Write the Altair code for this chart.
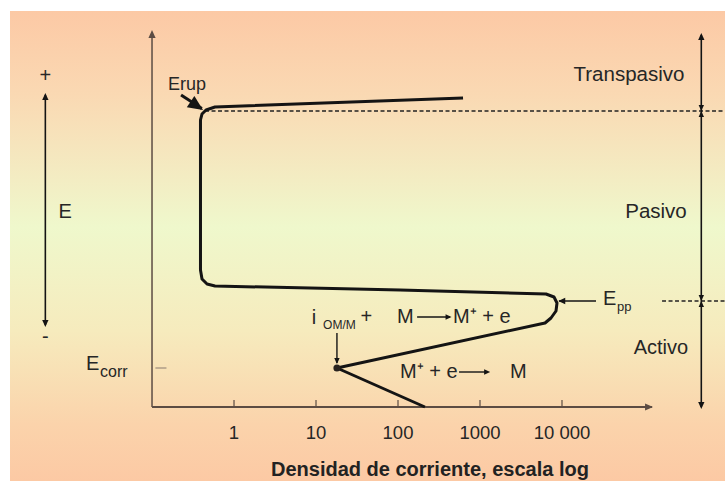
import altair as alt
import pandas as pd

# Anodic polarization curve: current density (log) vs potential, in drawing order
current = [213, 18, 6210, 7340, 8450, 8690, 7990, 6380, 106, 0.586, 0.469,
           0.407, 0.390, 0.390, 0.407, 0.456, 0.586, 621]
potential = [0, 39, 84, 89, 96, 104, 110, 113, 117, 121, 123,
             128, 137, 287, 293, 297, 300, 309]

# Characteristic points
i_corr, E_corr = 18, 39
E_pp = 106
E_rup = 296

# Horizontal axis ticks
tick_values = [1, 10, 100, 1000, 10000]
tick_labels = ["1", "10", "100", "1000", "10 000"]

FONT = "Liberation Sans"
INK = "#141414"
TEXT = "#262626"
AXIS = "#5c4c43"

W, H = 725, 481
X = alt.Scale(type="log", domain=[10 ** -2.854, 10 ** 5.988], nice=False)
Y = alt.Scale(domain=[-74, 407], nice=False, zero=False)
X_MAX = 10 ** 5.988

# Arrowhead with its tip at the anchor point, pointing up before rotation
HEAD = "M0,0 L-0.45,1 L0.45,1 Z"


def enc_xy(**extra):
    return dict(
        x=alt.X("x:Q", scale=X, axis=None),
        y=alt.Y("y:Q", scale=Y, axis=None),
        **extra,
    )


# Background frame with vertical colour gradient
bg = alt.Chart(pd.DataFrame({"k": [0]})).mark_rect(
    color=alt.Gradient(
        gradient="linear",
        x1=0, x2=0, y1=0, y2=1,
        stops=[
            alt.GradientStop(color="#fcc9a5", offset=0.0),
            alt.GradientStop(color="#fad9b3", offset=0.18),
            alt.GradientStop(color="#eff8cc", offset=0.46),
            alt.GradientStop(color="#f6ebbd", offset=0.68),
            alt.GradientStop(color="#fbd3ab", offset=0.88),
            alt.GradientStop(color="#fcc9a4", offset=1.0),
        ],
    )
).encode(x=alt.value(10), x2=alt.value(W), y=alt.value(11), y2=alt.value(H))

# Axes (drawn as lines with arrowheads) and decade ticks
axes_df = pd.DataFrame({
    "x": [0.1, 0.1], "x2": [1.25e5, 0.1],
    "y": [0, 0], "y2": [0, 373],
    "w": [2.0, 1.5],
})
axes = alt.Chart(axes_df).mark_rule(color=AXIS, strokeCap="butt").encode(
    x=alt.X("x:Q", scale=X, axis=None), x2="x2:Q",
    y=alt.Y("y:Q", scale=Y, axis=None), y2="y2:Q",
    strokeWidth=alt.StrokeWidth("w:Q", scale=None),
)
ticks = alt.Chart(pd.DataFrame({"x": tick_values, "y": [0] * 5, "y2": [7] * 5})).mark_rule(
    color=AXIS, strokeWidth=1.2
).encode(x=alt.X("x:Q", scale=X, axis=None), y=alt.Y("y:Q", scale=Y, axis=None), y2="y2:Q")

ecorr_tick = alt.Chart(pd.DataFrame({"x": [0.11], "x2": [0.15], "y": [E_corr]})).mark_rule(
    color="#8a7a70", strokeWidth=1
).encode(x=alt.X("x:Q", scale=X, axis=None), x2="x2:Q", y=alt.Y("y:Q", scale=Y, axis=None))

# Dashed limits of the passive region
dash_df = pd.DataFrame({"x": [0.443, 1.66e5], "x2": [X_MAX, X_MAX], "y": [E_rup, E_pp]})
dashes = alt.Chart(dash_df).mark_rule(color="#222222", strokeWidth=1.6, strokeDash=[4, 2.5]).encode(
    x=alt.X("x:Q", scale=X, axis=None), x2="x2:Q", y=alt.Y("y:Q", scale=Y, axis=None)
)

# The curve itself
curve_df = pd.DataFrame({"x": current, "y": potential, "step": range(len(current))})
curve = alt.Chart(curve_df).mark_line(color=INK, strokeWidth=3, strokeJoin="round").encode(
    **enc_xy(order="step:Q")
)

dot = alt.Chart(pd.DataFrame({"x": [i_corr], "y": [E_corr]})).mark_point(
    filled=True, shape="circle", size=50, color="#2a2420", opacity=1
).encode(**enc_xy())

# Arrow shafts
shaft_df = pd.DataFrame([
    # E range on the left
    dict(x=0.005, x2=0.005, y=82, y2=312, w=1.6),
    # region brackets on the right
    dict(x=5e5, x2=5e5, y=0, y2=372, w=1.6),
    # E_rup pointer
    dict(x=0.226, x2=0.405, y=312, y2=298.5, w=3.0),
    # E_pp pointer
    dict(x=26000, x2=9200, y=E_pp, y2=E_pp, w=1.6),
    # i_corr pointer
    dict(x=i_corr, x2=i_corr, y=74, y2=44, w=1.4),
    # reaction arrows
    dict(x=171, x2=430, y=90, y2=90, w=1.4),
    dict(x=555, x2=1250, y=35, y2=35, w=1.4),
])
shafts = alt.Chart(shaft_df).mark_rule(color=INK, strokeCap="butt").encode(
    x=alt.X("x:Q", scale=X, axis=None), x2="x2:Q",
    y=alt.Y("y:Q", scale=Y, axis=None), y2="y2:Q",
    strokeWidth=alt.StrokeWidth("w:Q", scale=None),
)

# Arrowheads: tip position, direction (degrees clockwise from up), size
head_df = pd.DataFrame([
    dict(x=0.1, y=377, a=0, s=256, c=AXIS),
    dict(x=1.29e5, y=0, a=90, s=256, c=AXIS),
    dict(x=0.005, y=314, a=0, s=196, c=INK),
    dict(x=0.005, y=80, a=180, s=196, c=INK),
    dict(x=5e5, y=374, a=0, s=196, c=INK),
    dict(x=5e5, y=E_rup, a=180, s=144, c=INK),
    dict(x=5e5, y=E_rup, a=0, s=144, c=INK),
    dict(x=5e5, y=E_pp, a=180, s=144, c=INK),
    dict(x=5e5, y=E_pp, a=0, s=144, c=INK),
    dict(x=5e5, y=-2, a=180, s=196, c=INK),
    dict(x=0.419, y=297, a=124, s=900, c=INK),
    dict(x=9000, y=E_pp, a=270, s=196, c=INK),
    dict(x=i_corr, y=43, a=180, s=144, c=INK),
    dict(x=450, y=90, a=90, s=144, c=INK),
    dict(x=1330, y=35, a=90, s=144, c=INK),
])
heads = alt.Chart(head_df).mark_point(shape=HEAD, filled=True, opacity=1, strokeWidth=0).encode(
    **enc_xy(
        angle=alt.Angle("a:Q", scale=None),
        size=alt.Size("s:Q", scale=None),
        color=alt.Color("c:N", scale=None),
    )
)

# Labels
center_df = pd.DataFrame(
    [
        dict(t="+", x=0.005, y=331, fs=20),
        dict(t="-", x=0.005, y=70, fs=20),
        dict(t="E", x=0.0087, y=195, fs=20),
        dict(t="Erup", x=0.267, y=322, fs=18),
        dict(t="Transpasivo", x=65600, y=332, fs=20.5),
        dict(t="Pasivo", x=140000, y=195, fs=20.5),
        dict(t="Activo", x=161000, y=59, fs=20),
    ]
    + [dict(t=lab, x=v, y=-26, fs=18.5) for v, lab in zip(tick_values, tick_labels)]
)
center_text = alt.Chart(center_df).mark_text(font=FONT, color=TEXT, align="center", baseline="middle").encode(
    **enc_xy(text="t:N", size=alt.Size("fs:Q", scale=None))
)

left_df = pd.DataFrame([
    dict(t="E", x=0.0157, y=43, fs=20),
    dict(t="corr", x=0.0232, y=35, fs=16),
    dict(t="E", x=31600, y=108, fs=20),
    dict(t="pp", x=46800, y=100, fs=13),
    dict(t="i", x=8.9, y=89, fs=20),
    dict(t="OM/M", x=12.2, y=82, fs=12),
    dict(t="+", x=35, y=90, fs=20),
    dict(t="M", x=97, y=90, fs=20),
    dict(t="M⁺ + e", x=469, y=90, fs=20),
    dict(t="M⁺ + e", x=106, y=35, fs=20),
    dict(t="M", x=2320, y=35, fs=20),
])
left_text = alt.Chart(left_df).mark_text(font=FONT, color=TEXT, align="left", baseline="middle").encode(
    **enc_xy(text="t:N", size=alt.Size("fs:Q", scale=None))
)

title = alt.Chart(pd.DataFrame({"t": ["Densidad de corriente, escala log"], "x": [245], "y": [-63]})).mark_text(
    font=FONT, color="#222222", fontSize=20, fontWeight="bold", align="center", baseline="middle"
).encode(**enc_xy(text="t:N"))

chart = alt.layer(
    bg, dashes, axes, ticks, ecorr_tick, curve, shafts, heads, dot, center_text, left_text, title
).properties(
    width=W, height=H, autosize=alt.AutoSizeParams(type="none"), padding=0, background="white"
).configure_view(stroke=None)

chart.save("out.html", embed_options={"renderer": "svg", "actions": False})
